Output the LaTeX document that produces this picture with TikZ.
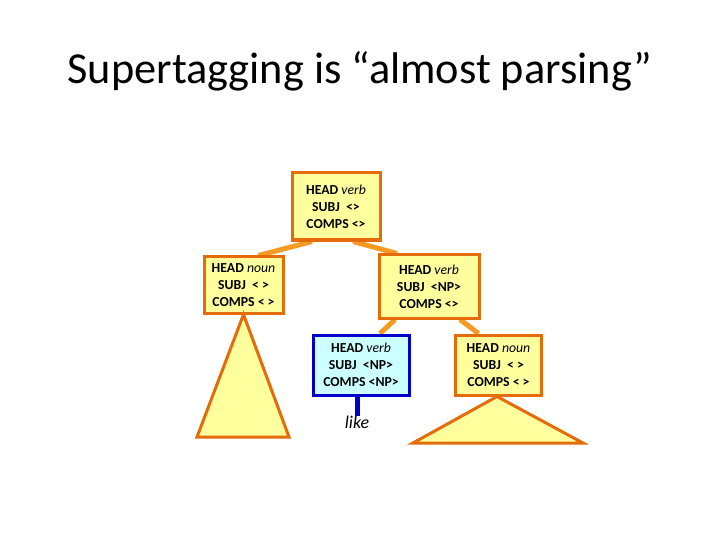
\documentclass[tikz,border=0pt]{standalone}
\usepackage{fontspec}
\setmainfont{Carlito}
\usetikzlibrary{calc,backgrounds}
\definecolor{boxorange}{HTML}{E46C0A}
\definecolor{lineorange}{HTML}{F59A23}
\definecolor{boxfill}{HTML}{FFFF9E}
\definecolor{bluefill}{HTML}{CCFFFF}
\definecolor{blueline}{HTML}{0000CC}
\tikzset{
  fs/.style={rectangle, draw=boxorange, line width=3bp, fill=boxfill, align=center, inner sep=0pt,
    font=\fontsize{13.8}{17}\selectfont\bfseries},
  bluebox/.style={fs, draw=blueline, fill=bluefill},
  conn/.style={draw=lineorange, line width=5bp},
  tri/.style={draw=boxorange, line width=3bp, fill=boxfill, line join=miter},
}
\newcommand{\nit}[1]{\textit{\mdseries #1}}
\begin{document}
\begin{tikzpicture}[x=1bp,y=-1bp]
\useasboundingbox (0,0) rectangle (720,540);
\node[font=\fontsize{44.5}{52}\selectfont] (title) at (360,71) {Supertagging is “almost parsing”};
\node[fs, minimum width=88bp, minimum height=67bp] (top) at (336,206.5) {HEAD \nit{verb}\\SUBJ~~<>\\COMPS <>};
\node[fs, minimum width=79bp, minimum height=56bp] (left) at (243.5,285) {HEAD \nit{noun}\\SUBJ~~< >\\COMPS < >};
\node[fs, minimum width=100bp, minimum height=63bp] (rm) at (429,286.5) {HEAD \nit{verb}\\SUBJ~~<NP>\\COMPS <>};
\node[bluebox, minimum width=96bp, minimum height=60bp] (blue) at (361,365) {HEAD \nit{verb}\\SUBJ~~<NP>\\COMPS <NP>};
\node[fs, minimum width=86bp, minimum height=60bp] (rl) at (498.5,365) {HEAD \nit{noun}\\SUBJ~~< >\\COMPS < >};
\node[font=\fontsize{18}{20}\selectfont\itshape, inner sep=1bp] (like) at (357,422) {like};
\begin{scope}[on background layer]
  \draw[conn] ($(top.south)+(-24,0)$) -- ($(left.north)+(15,0)$);
  \draw[conn] ($(top.south)+(17,0)$) -- ($(rm.north)+(-32,0)$);
  \draw[conn] ($(rm.south)+(-34,0)$) -- ($(blue.north)+(19,0)$);
  \draw[conn] ($(rm.south)+(31,0)$) -- ($(rl.north)+(-20,0)$);
  \draw[draw=blueline, line width=5bp] ($(blue.south)+(-4,0)$) -- ($(like.north)+(0,1)$);
\end{scope}
\draw[tri] (left.south) -- (289,437) -- (197,437) -- cycle;
\draw[tri] ($(rl.south)+(-1.5,0)$) -- (583,443) -- (413,443) -- cycle;
\end{tikzpicture}
\end{document}
